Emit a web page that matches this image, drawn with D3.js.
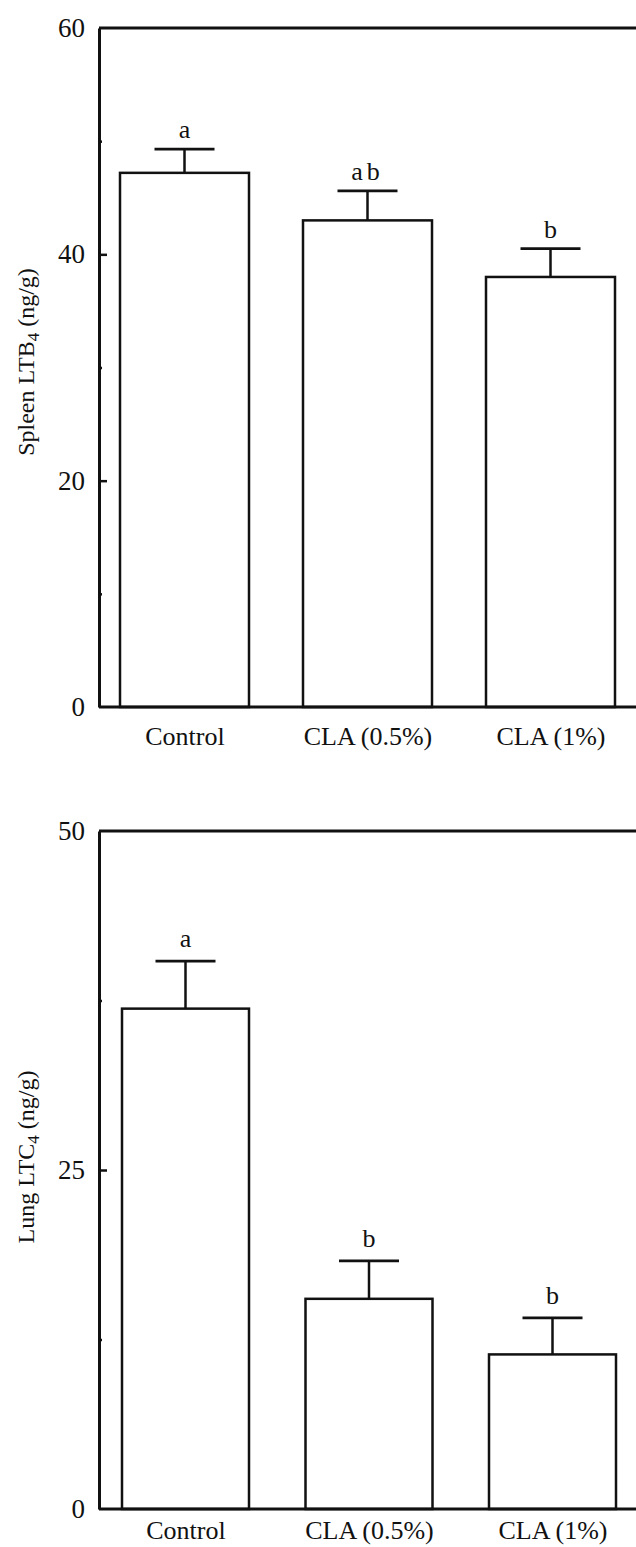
<!DOCTYPE html>
<html>
<head>
<meta charset="utf-8">
<script src="https://cdn.jsdelivr.net/npm/d3@7"></script>
<style>
  html, body { margin: 0; padding: 0; background: #fff; }
  svg { display: block; }
  text { font-family: "Liberation Serif", "Times New Roman", serif; fill: #111; }
</style>
</head>
<body>
<svg id="chart" width="636" height="1547"></svg>
<script>
// Treatment groups
const categories = ["Control", "CLA (0.5%)", "CLA (1%)"];

// Spleen LTB4 (ng/g): means, standard errors, significance letters
const spleenMeans = [47.2, 43.0, 38.0];
const spleenSE = [2.1, 2.6, 2.5];
const spleenLetters = ["a", "ab", "b"];
const spleenTicks = [0, 20, 40, 60];
const spleenMinorTicks = [10, 30, 50];

// Lung LTC4 (ng/g): means, standard errors, significance letters
const lungMeans = [36.9, 15.5, 11.4];
const lungSE = [3.5, 2.8, 2.7];
const lungLetters = ["a", "b", "b"];
const lungTicks = [0, 25, 50];
const lungMinorTicks = [12.5, 37.5];

const svg = d3.select("#chart");
const INK = "#111";
const SERIF = "Liberation Serif, Times New Roman, serif";

function drawPanel(opts) {
  const g = svg.append("g");
  const y = d3.scaleLinear().domain([0, opts.yMax]).range([opts.y0, opts.yTop]);
  const x = d3.scalePoint().domain(categories).range(opts.xRange);
  const barW = opts.barW;
  const capW = 60;

  // frame: top line (the right side runs off the page)
  g.append("line")
    .attr("x1", opts.axisX).attr("x2", 660)
    .attr("y1", y(opts.yMax)).attr("y2", y(opts.yMax))
    .attr("stroke", INK).attr("stroke-width", 2.8);

  // bars
  g.selectAll("rect.bar").data(opts.means).join("rect")
    .attr("class", "bar")
    .attr("x", (d, i) => x(categories[i]) - barW / 2)
    .attr("y", d => y(d))
    .attr("width", barW)
    .attr("height", d => y(0) - y(d))
    .attr("fill", "#fff")
    .attr("stroke", INK)
    .attr("stroke-width", 2.5);

  // error bars (upper half only)
  const eb = g.selectAll("g.err").data(opts.means).join("g").attr("class", "err");
  eb.append("line")
    .attr("x1", (d, i) => x(categories[i])).attr("x2", (d, i) => x(categories[i]))
    .attr("y1", d => y(d)).attr("y2", (d, i) => y(d + opts.se[i]))
    .attr("stroke", INK).attr("stroke-width", 2.5);
  eb.append("line")
    .attr("x1", (d, i) => x(categories[i]) - capW / 2)
    .attr("x2", (d, i) => x(categories[i]) + capW / 2)
    .attr("y1", (d, i) => y(d + opts.se[i])).attr("y2", (d, i) => y(d + opts.se[i]))
    .attr("stroke", INK).attr("stroke-width", 2.8);

  // significance letters
  g.selectAll("text.sig").data(opts.means).join("text")
    .attr("class", "sig")
    .attr("x", (d, i) => x(categories[i]))
    .attr("y", (d, i) => y(d + opts.se[i]) - opts.letterGap)
    .attr("text-anchor", "middle")
    .attr("font-size", 26)
    .attr("letter-spacing", (d, i) => opts.letters[i].length > 1 ? 4 : 0)
    .text((d, i) => opts.letters[i]);

  // baseline
  g.append("line")
    .attr("x1", opts.axisX).attr("x2", 660)
    .attr("y1", y(0)).attr("y2", y(0))
    .attr("stroke", INK).attr("stroke-width", 3);

  // y axis with inward ticks
  const yAxis = g.append("g")
    .attr("transform", `translate(${opts.axisX},0)`)
    .call(d3.axisLeft(y).tickValues(opts.ticks).tickSize(-8).tickSizeOuter(0)
      .tickPadding(14).tickFormat(d3.format("d")));
  yAxis.select(".domain").attr("stroke", INK).attr("stroke-width", 3);
  yAxis.selectAll(".tick line").attr("stroke", INK).attr("stroke-width", 2.5);
  yAxis.selectAll(".tick text")
    .attr("font-size", 27).attr("font-family", SERIF).attr("fill", INK);
  yAxis.selectAll(".tick").filter(d => d === 0 || d === opts.yMax)
    .select("line").remove();

  const yMinor = g.append("g")
    .attr("transform", `translate(${opts.axisX},0)`)
    .call(d3.axisLeft(y).tickValues(opts.minorTicks).tickSize(-3).tickFormat(""));
  yMinor.select(".domain").remove();
  yMinor.selectAll(".tick line").attr("stroke", INK).attr("stroke-width", 2.5);

  // category labels
  const xAxis = g.append("g")
    .attr("transform", `translate(0,${y(0)})`)
    .call(d3.axisBottom(x).tickSize(0).tickPadding(opts.catPad));
  xAxis.select(".domain").remove();
  xAxis.selectAll(".tick text")
    .attr("font-size", 26).attr("font-family", SERIF).attr("fill", INK);

  // y axis title with subscript
  const title = g.append("text")
    .attr("transform", `translate(${opts.titleX},${opts.titleY}) rotate(-90)`)
    .attr("text-anchor", "middle")
    .attr("font-size", 24);
  title.append("tspan").text(opts.title[0]);
  title.append("tspan").attr("font-size", 17).attr("dy", 5).text(opts.title[1]);
  title.append("tspan").attr("dy", -5).text(opts.title[2]);
}

drawPanel({
  yMax: 60, y0: 707, yTop: 28,
  axisX: 99, xRange: [184.5, 550.5], barW: 129,
  means: spleenMeans, se: spleenSE, letters: spleenLetters,
  ticks: spleenTicks, minorTicks: spleenMinorTicks,
  letterGap: 11, catPad: 20,
  title: ["Spleen LTB", "4", " (ng/g)"], titleX: 34, titleY: 362
});

drawPanel({
  yMax: 50, y0: 1509, yTop: 831,
  axisX: 99, xRange: [185.5, 552.5], barW: 127,
  means: lungMeans, se: lungSE, letters: lungLetters,
  ticks: lungTicks, minorTicks: lungMinorTicks,
  letterGap: 14, catPad: 12,
  title: ["Lung LTC", "4", " (ng/g)"], titleX: 34, titleY: 1157
});
</script>
</body>
</html>
